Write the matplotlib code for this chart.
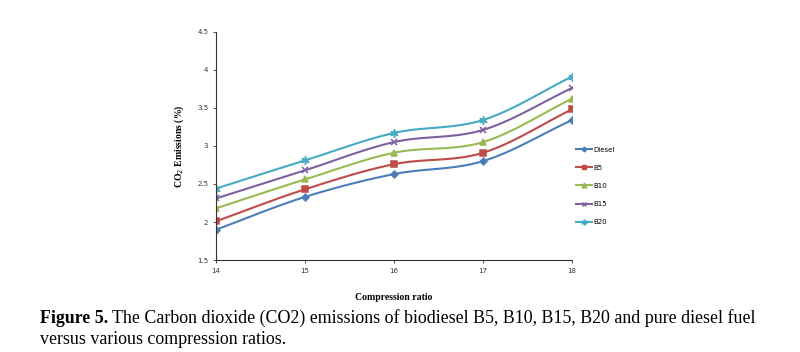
import numpy as np
import matplotlib.pyplot as plt

ratios = [14, 15, 16, 17, 18]
diesel = [1.90, 2.33, 2.63, 2.80, 3.34]
b5 = [2.01, 2.43, 2.76, 2.91, 3.48]
b10 = [2.18, 2.56, 2.91, 3.05, 3.62]
b15 = [2.31, 2.68, 3.05, 3.21, 3.76]
b20 = [2.44, 2.81, 3.17, 3.34, 3.91]
labels = ['Diesel', 'B5', 'B10', 'B15', 'B20']
yticks = [1.5, 2, 2.5, 3, 3.5, 4, 4.5]
ytick_labels = ['1.5', '2', '2.5', '3', '3.5', '4', '4.5']


def smooth(x, y, n=30):
    # Catmull-Rom curve through the points, like Excel's smoothed line
    x = np.asarray(x, float)
    y = np.asarray(y, float)
    px = np.concatenate([[2 * x[0] - x[1]], x, [2 * x[-1] - x[-2]]])
    py = np.concatenate([[2 * y[0] - y[1]], y, [2 * y[-1] - y[-2]]])
    xs, ys = [], []
    t = np.linspace(0, 1, n)
    for i in range(1, len(px) - 2):
        for p, out in ((px, xs), (py, ys)):
            p0, p1, p2, p3 = p[i - 1], p[i], p[i + 1], p[i + 2]
            out.extend(0.5 * (2 * p1 + (-p0 + p2) * t
                              + (2 * p0 - 5 * p1 + 4 * p2 - p3) * t ** 2
                              + (-p0 + 3 * p1 - 3 * p2 + p3) * t ** 3))
    return xs, ys


colors = ['#4a7ebb', '#be4b48', '#98b954', '#7d60a0', '#46aac5']
markers = ['D', 's', '^', 'x', (6, 2, 0)]
sizes = [3.5, 5, 5, 5, 6]

fig = plt.figure(figsize=(8, 3.52), dpi=100)
ax = fig.add_axes([0.27, 0.261, 0.445, 0.649])

for vals, lab, c, m, s in zip([diesel, b5, b10, b15, b20], labels, colors, markers, sizes):
    xs, ys = smooth(ratios, vals)
    ax.plot(xs, ys, color=c, linewidth=1.5)
    ax.plot(ratios, vals, linestyle='none', marker=m, color=c, markersize=s,
            markeredgewidth=1.1)
    ax.plot([], [], color=c, linewidth=1.5, marker=m, markersize=s * 0.7, label=lab)

ax.set_xlim(14, 18)
ax.set_ylim(1.5, 4.5)
ax.set_xticks(ratios)
ax.set_yticks(yticks)
ax.set_yticklabels(ytick_labels)
ax.tick_params(labelsize=5, length=2, width=0.6, colors='#333333')
for sp in ['top', 'right']:
    ax.spines[sp].set_visible(False)
for sp in ['left', 'bottom']:
    ax.spines[sp].set_linewidth(0.8)
    ax.spines[sp].set_color('#333333')

ax.set_ylabel('CO$_2$ Emissions (%)', fontsize=7, fontweight='bold',
              family='Liberation Serif', labelpad=8)
ax.set_xlabel('Compression ratio', fontsize=7, fontweight='bold',
              family='Liberation Serif', labelpad=14)

ax.legend(loc='center left', bbox_to_anchor=(0.995, 0.325), frameon=False,
          fontsize=5, handlelength=2.2, handletextpad=0.2, labelspacing=1.75)

cap_size = 12.9
t1 = fig.text(0.05, 0.083, 'Figure 5.', fontsize=cap_size, fontweight='bold',
              family='Liberation Serif')
fig.canvas.draw()
bb = t1.get_window_extent().transformed(fig.transFigure.inverted())
fig.text(bb.x1 + 0.005, 0.083,
         'The Carbon dioxide (CO2) emissions of biodiesel B5, B10, B15, B20 and pure diesel fuel',
         fontsize=cap_size, family='Liberation Serif')
fig.text(0.05, 0.023, 'versus various compression ratios.', fontsize=cap_size,
         family='Liberation Serif')

fig.savefig('out.png', dpi=100)
